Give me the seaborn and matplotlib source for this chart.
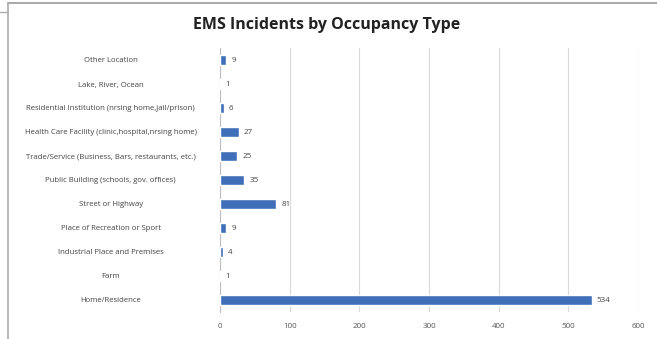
import matplotlib
matplotlib.use("Agg")
import matplotlib.pyplot as plt
import seaborn as sns
import pandas as pd
from matplotlib.lines import Line2D

categories = [
    "Other Location",
    "Lake, River, Ocean",
    "Residential Institution (nrsing home,jail/prison)",
    "Health Care Facility (clinic,hospital,nrsing home)",
    "Trade/Service (Business, Bars, restaurants, etc.)",
    "Public Building (schools, gov. offices)",
    "Street or Highway",
    "Place of Recreation or Sport",
    "Industrial Place and Premises",
    "Farm",
    "Home/Residence",
]
values = [9, 1, 6, 27, 25, 35, 81, 9, 4, 1, 534]
xticks = [0, 100, 200, 300, 400, 500, 600]

sns.set_theme(style="white")
plt.rcParams["font.family"] = ["Open Sans", "DejaVu Sans"]

df = pd.DataFrame({"category": categories, "value": values})

fig = plt.figure(figsize=(6.57, 3.39), dpi=100)
ax = fig.add_axes([220 / 657, 1 - 312 / 339, (638 - 220) / 657, (312 - 48) / 339])

sns.barplot(data=df, y="category", x="value", color="#3F6FB8", width=0.4,
            saturation=1, ax=ax, orient="h", zorder=3)

ax.set_xlim(0, 600)
ax.set_xticks(xticks)
ax.set_xticklabels([str(t) for t in xticks], fontsize=5.8, color="#555555")
ax.tick_params(axis="x", length=0, pad=8)
ax.tick_params(axis="y", length=0, pad=8, labelsize=5.6, labelcolor="#444444")
for lab in ax.get_yticklabels():
    lab.set_horizontalalignment("center")
    lab.set_x(-0.235)
ax.set_xlabel("")
ax.set_ylabel("")
ax.xaxis.grid(True, color="#D9D9D9", linewidth=0.8, zorder=0)
for s in ["top", "right", "bottom"]:
    ax.spines[s].set_visible(False)
ax.spines["left"].set_color("#BFBFBF")
ax.spines["left"].set_linewidth(0.8)

for i, v in enumerate(values):
    ax.text(v + 7, i, str(v), va="center", ha="left", fontsize=5.8, color="#444444")

fig.text(327 / 657, 1 - 25 / 339, "EMS Incidents by Occupancy Type",
         ha="center", va="center", fontsize=11.5, fontweight="bold", color="#222222")

fig.add_artist(Line2D([8 / 657, 1], [1 - 3 / 339, 1 - 3 / 339], color="#9A9A9A", lw=1.2))
fig.add_artist(Line2D([8 / 657, 8 / 657], [0, 1 - 3 / 339], color="#AAAAAA", lw=1.2))
fig.add_artist(Line2D([0, 8 / 657], [1 - 12 / 339, 1 - 12 / 339], color="#AAAAAA", lw=1.0))

fig.savefig("out.png", dpi=100)
